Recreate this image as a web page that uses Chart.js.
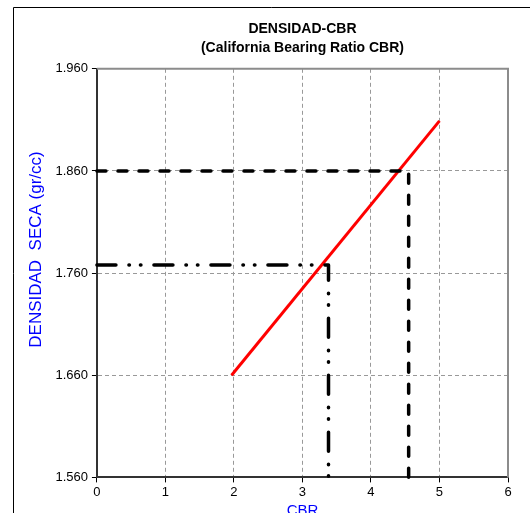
<!DOCTYPE html>
<html>
<head>
<meta charset="utf-8">
<script src="https://cdn.jsdelivr.net/npm/chart.js@4.4.1/dist/chart.umd.min.js"></script>
<style>
  html, body { margin: 0; padding: 0; background: #fff; overflow: hidden; }
  #wrap { position: absolute; left: 0; top: 0; width: 530px; height: 540px; }
</style>
</head>
<body>
<div id="wrap"><canvas id="c" width="530" height="540"></canvas></div>
<script>
// Axis ticks
const xTicks = [0, 1, 2, 3, 4, 5, 6];
const yTicks = [1.56, 1.66, 1.76, 1.86, 1.96];

// Density vs CBR trend line
const trendCBR = [1.965, 5.0];
const trendDensity = [1.660, 1.909];

// Reading at maximum density (dashed guide)
const maxGuideCBR = [0, 4.55, 4.55];
const maxGuideDensity = [1.860, 1.860, 1.560];

// Reading at 95 % density (dash-dot guide)
const lowGuideCBR = [0, 3.38, 3.38];
const lowGuideDensity = [1.768, 1.768, 1.560];

const toPoints = (xs, ys) => xs.map((x, i) => ({ x: x, y: ys[i] }));

const FONT = "'Liberation Sans', Arial, sans-serif";

// Outer frame and solid top/right plot borders
const framePlugin = {
  id: 'frame',
  beforeDraw(chart) {
    const ctx = chart.ctx;
    ctx.save();
    ctx.fillStyle = '#fff';
    ctx.fillRect(0, 0, chart.width, chart.height);
    ctx.strokeStyle = '#000';
    ctx.lineWidth = 1;
    ctx.beginPath();
    ctx.moveTo(13.5, chart.height);
    ctx.lineTo(13.5, 7.5);
    ctx.lineTo(chart.width, 7.5);
    ctx.stroke();
    ctx.restore();
  },
  afterDatasetsDraw(chart) {
    const a = chart.chartArea;
    const ctx = chart.ctx;
    ctx.save();
    ctx.strokeStyle = '#8c8c8c';
    ctx.lineWidth = 2;
    ctx.beginPath();
    ctx.moveTo(a.left, a.top);
    ctx.lineTo(a.right, a.top);
    ctx.lineTo(a.right, a.bottom);
    ctx.stroke();
    ctx.restore();
  }
};

new Chart(document.getElementById('c'), {
  type: 'scatter',
  data: {
    datasets: [
      {
        label: 'Densidad-CBR',
        data: toPoints(trendCBR, trendDensity),
        showLine: true,
        borderColor: '#ff0000',
        borderWidth: 3,
        pointRadius: 0,
        order: 3
      },
      {
        label: 'Densidad máxima',
        data: toPoints(maxGuideCBR, maxGuideDensity),
        showLine: true,
        borderColor: '#000',
        borderWidth: 3.5,
        borderDash: [9, 12],
        borderCapStyle: 'round',
        borderJoinStyle: 'round',
        pointRadius: 0,
        clip: 6,
        order: 1
      },
      {
        label: 'Densidad 95 %',
        data: toPoints(lowGuideCBR, lowGuideDensity),
        showLine: true,
        borderColor: '#000',
        borderWidth: 3.5,
        borderDash: [19, 13, 0.5, 11, 0.5, 13],
        borderCapStyle: 'round',
        borderJoinStyle: 'round',
        pointRadius: 0,
        clip: 6,
        order: 2
      }
    ]
  },
  options: {
    responsive: false,
    animation: false,
    devicePixelRatio: 1,
    layout: { padding: { left: 26, right: 22, top: 20, bottom: 20 } },
    plugins: {
      legend: { display: false },
      tooltip: { enabled: false },
      title: {
        display: true,
        fullSize: false,
        text: ['DENSIDAD-CBR', '(California Bearing Ratio CBR)'],
        color: '#000',
        font: { family: FONT, size: 14, weight: 'bold', lineHeight: 1.35 },
        padding: { top: 0, bottom: 11 }
      }
    },
    scales: {
      x: {
        type: 'linear',
        min: 0,
        max: 6,
        afterBuildTicks(scale) { scale.ticks = xTicks.map(v => ({ value: v })); },
        ticks: {
          color: '#000',
          font: { family: FONT, size: 13 },
          padding: 2,
          maxRotation: 0,
          callback: v => String(v)
        },
        grid: {
          color: ctx => (ctx.tick && ctx.tick.value === 0) ? 'rgba(0,0,0,0)' : '#999',
          lineWidth: 1,
          tickColor: '#000',
          tickLength: 5,
          tickWidth: 1
        },
        border: { display: true, color: '#333', width: 2, dash: [4, 3] },
        title: {
          display: true,
          text: 'CBR',
          color: '#0000ff',
          font: { family: FONT, size: 15 },
          padding: { top: 0, bottom: 0 }
        }
      },
      y: {
        type: 'linear',
        min: 1.56,
        max: 1.96,
        afterBuildTicks(scale) { scale.ticks = yTicks.map(v => ({ value: v })); },
        ticks: {
          color: '#000',
          font: { family: FONT, size: 13 },
          padding: 4,
          callback: v => v.toFixed(3)
        },
        grid: {
          color: ctx => (ctx.tick && Math.abs(ctx.tick.value - 1.56) < 1e-6) ? 'rgba(0,0,0,0)' : '#999',
          lineWidth: 1,
          tickColor: '#000',
          tickLength: 5,
          tickWidth: 1
        },
        border: { display: true, color: '#333', width: 2, dash: [4, 3] },
        title: {
          display: true,
          text: '          DENSIDAD  SECA (gr/cc)',
          color: '#0000ff',
          font: { family: FONT, size: 17 },
          padding: { top: 0, bottom: 5 }
        }
      }
    }
  },
  plugins: [framePlugin]
});
</script>
</body>
</html>
